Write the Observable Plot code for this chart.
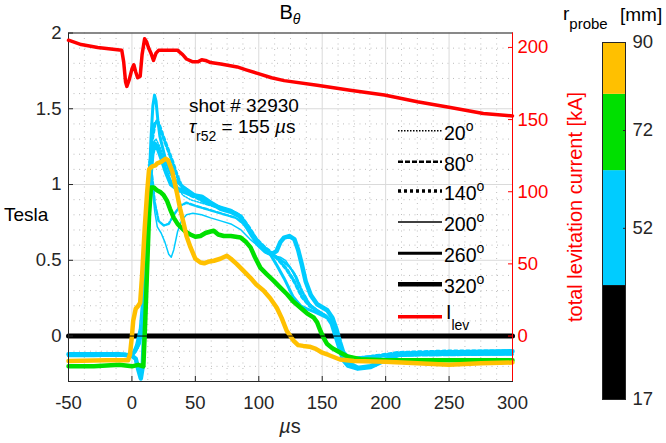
<!DOCTYPE html>
<html><head><meta charset="utf-8">
<script src="https://cdn.jsdelivr.net/npm/d3@7"></script>
<script src="https://cdn.jsdelivr.net/npm/@observablehq/plot@0.6"></script>
<style>
body{margin:0;background:#fff;}
#wrap{position:relative;width:666px;height:443px;overflow:hidden;}
#wrap svg{position:absolute;left:0;top:0;}
</style></head><body><div id="wrap"></div>
<script>
// ---------- tick values ----------
const xTicks = [-50, 0, 50, 100, 150, 200, 250, 300];
const yTicks = [0, 0.5, 1, 1.5, 2];
const rightTicks = [0, 50, 100, 150, 200];
const cbTicks = [17, 52, 72, 90];
const cbEdges = [17, 40.3, 63.8, 79.4, 90];
const cbColors = ["#000000", "#00ccff", "#00e000", "#ffc000"];
const angleLabels = ["20", "80", "140", "200", "260", "320"];

// ---------- series: [time µs, value] ----------
// r = 17 mm probe (black)
const b17 = [[-50, 0], [300, 0]];
// r = 52 mm probe (cyan), one per angle
const b52_20 = [[-50,-0.12],[0,-0.12],[4,-0.06],[8,0.1],[11,0.55],[13,0.95],[15,1.18],[17,1.28],[19,1.3],[22,1.25],[25,1.18],[30,1.08],[35,1.0],[40,0.93],[46,0.9],[54,0.88],[62,0.86],[70,0.84],[78,0.82],[85,0.78],[92,0.7],[100,0.62],[108,0.56],[115,0.52],[121,0.48],[126,0.44],[131,0.34],[137,0.24],[143,0.19],[150,0.15],[156,0.11],[160,0.05],[164,-0.05],[168,-0.12],[176,-0.14],[200,-0.12],[300,-0.11]];
const b52_80 = [[-50,-0.13],[0,-0.13],[4,-0.08],[8,0.1],[10,0.5],[12,0.95],[14,1.15],[16,1.05],[18,0.88],[21,0.76],[25,0.73],[29,0.74],[33,0.8],[38,0.86],[43,0.88],[50,0.86],[58,0.84],[66,0.82],[74,0.8],[82,0.78],[88,0.74],[94,0.67],[100,0.6],[106,0.55],[112,0.53],[118,0.5],[124,0.46],[129,0.4],[134,0.3],[140,0.21],[146,0.17],[152,0.14],[157,0.1],[161,0.02],[165,-0.08],[169,-0.14],[180,-0.16],[200,-0.13],[300,-0.12]];
const b52_140 = [[-50,-0.12],[0,-0.12],[4,-0.08],[8,0.05],[10,0.3],[12,0.7],[14,1.1],[16,1.3],[18,1.4],[20,1.42],[22,1.38],[24,1.33],[28,1.24],[32,1.15],[36,1.05],[40,0.97],[46,0.93],[52,0.91],[58,0.88],[65,0.86],[72,0.84],[80,0.82],[86,0.79],[92,0.72],[98,0.64],[104,0.59],[110,0.55],[116,0.5],[122,0.44],[128,0.36],[134,0.26],[140,0.2],[147,0.16],[153,0.13],[158,0.08],[162,-0.01],[166,-0.1],[172,-0.15],[185,-0.14],[210,-0.11],[250,-0.1],[300,-0.1]];
const b52_200 = [[-50,-0.12],[0,-0.12],[3,-0.06],[6,0.05],[9,0.35],[11,0.75],[13,1.02],[14.5,1.08],[16,0.98],[18,0.82],[20,0.72],[23,0.68],[26,0.62],[29,0.54],[31,0.52],[33,0.57],[36,0.69],[39,0.76],[43,0.8],[48,0.81],[55,0.8],[62,0.78],[70,0.76],[78,0.74],[86,0.7],[93,0.64],[100,0.59],[106,0.55],[112,0.53],[117,0.52],[121,0.5],[125,0.45],[130,0.37],[135,0.28],[140,0.21],[146,0.17],[152,0.14],[157,0.11],[161,0.03],[165,-0.07],[169,-0.13],[180,-0.15],[210,-0.12],[300,-0.11]];
const b52_260 = [[-50,-0.13],[-30,-0.13],[-10,-0.125],[0,-0.13],[3,-0.1],[6,-0.05],[9,0.1],[11,0.45],[13,0.9],[15,1.3],[16.5,1.52],[17.8,1.59],[19,1.55],[20.5,1.42],[22,1.32],[24,1.25],[27,1.15],[30,1.08],[34,1.03],[38,1.0],[43,0.97],[50,0.93],[56,0.9],[62,0.87],[70,0.85],[78,0.83],[84,0.8],[89,0.75],[94,0.69],[99,0.63],[104,0.58],[109,0.54],[114,0.47],[120,0.38],[127,0.26],[133,0.2],[138,0.18],[144,0.16],[149,0.14],[154,0.12],[157,0.08],[160,0.0],[163,-0.08],[166,-0.16],[170,-0.2],[178,-0.22],[188,-0.21],[198,-0.17],[210,-0.13],[230,-0.12],[260,-0.12],[300,-0.12]];
const b52_320 = [[-50,-0.12],[-10,-0.12],[0,-0.13],[3,-0.15],[5,-0.22],[7,-0.28],[8.5,-0.2],[10,0.1],[12,0.6],[14,1.0],[16,1.2],[18,1.27],[20,1.25],[23,1.18],[27,1.08],[31,1.0],[36,0.97],[42,0.95],[48,0.93],[55,0.92],[62,0.88],[70,0.84],[78,0.82],[85,0.79],[90,0.73],[95,0.66],[100,0.6],[105,0.56],[110,0.54],[114,0.56],[117,0.62],[120,0.65],[124,0.66],[128,0.64],[131,0.57],[134,0.47],[137,0.36],[141,0.27],[146,0.21],[150,0.19],[154,0.17],[158,0.12],[161,0.05],[164,-0.04],[167,-0.12],[171,-0.18],[178,-0.21],[188,-0.2],[198,-0.16],[210,-0.12],[240,-0.11],[300,-0.1]];
// r = 72 mm probe (green)
const b72 = [[-50,-0.2],[-30,-0.2],[-10,-0.19],[0,-0.2],[5,-0.19],[9,-0.2],[10.5,0.1],[12,0.45],[13.5,0.8],[15,0.98],[17.3,0.98],[20,0.96],[22.5,0.95],[25,0.93],[27.8,0.89],[30,0.84],[33,0.78],[36,0.74],[38.3,0.72],[42,0.69],[46,0.67],[50,0.655],[54,0.66],[58,0.68],[62,0.69],[64.5,0.695],[68,0.67],[72.4,0.66],[78,0.66],[85.6,0.65],[90,0.62],[93.5,0.585],[97,0.52],[101.3,0.45],[106,0.41],[111.8,0.364],[117,0.32],[122.3,0.276],[127,0.23],[132.9,0.187],[138,0.15],[143.4,0.121],[146,0.09],[148.6,0.033],[151,-0.01],[153.9,-0.053],[158,-0.08],[164.4,-0.11],[170,-0.135],[180,-0.153],[200,-0.16],[250,-0.16],[300,-0.16]];
// r = 90 mm probe (orange)
const b90 = [[-50,-0.165],[-20,-0.16],[-3,-0.16],[-1.5,-0.12],[0,0.0],[1,0.1],[3,0.18],[5,0.2],[6.5,0.22],[8,0.4],[10,0.7],[12,0.95],[13.5,1.1],[16,1.12],[18.6,1.126],[20,1.14],[23,1.15],[26.5,1.17],[28.5,1.16],[31.7,1.09],[33.5,1.02],[35.6,0.94],[38,0.84],[40.9,0.74],[43,0.66],[46.2,0.585],[50,0.51],[54,0.485],[57,0.48],[60,0.49],[64.6,0.497],[69.7,0.51],[74.8,0.53],[78,0.51],[82.7,0.475],[88,0.43],[93.2,0.386],[98,0.34],[103.7,0.3],[109,0.25],[114.2,0.187],[118,0.12],[122,0.035],[127.3,-0.03],[131,-0.06],[135,-0.065],[140,-0.07],[145,-0.085],[150,-0.11],[155,-0.125],[164,-0.155],[175,-0.165],[200,-0.17],[225,-0.18],[250,-0.19],[275,-0.18],[300,-0.175]];
// total levitation current [kA]
const ilev = [[-50,205],[-40,202],[-27,200],[-8,198],[-6.5,190],[-5,176],[-4,173],[-2,178],[0,185],[1.5,188],[3,183],[4.5,179],[6.5,180],[8,195],[10,206],[11.5,204],[13,200],[15,196],[17,191],[19,196],[21,198],[26,198],[36,198],[40,195],[43,192],[48,190],[52,190],[55,191.5],[58,191],[62,189.5],[70,188.5],[83,186.5],[90,184.5],[99,182],[110,179],[120,177],[146,173.8],[172,170.4],[199,167],[225,162.3],[251,158.4],[277,154.2],[300,152.5]];

// ---------- layout / styles ----------
const W = 666, H = 443, ML = 68, MR = 154, MT = 32.5, MB = 62;
const font = '"Liberation Sans", Arial, Helvetica, sans-serif';
const ink = "#262626";
const CYAN = "#00ccff", GREEN = "#00e000", ORANGE = "#ffc000", RED = "#ff0000";
const lineStyle = {
  "20":  {strokeWidth: 1.5, strokeDasharray: "1.5,1.5"},
  "80":  {strokeWidth: 2.5, strokeDasharray: "5,2"},
  "140": {strokeWidth: 3.5, strokeDasharray: "3,3"},
  "200": {strokeWidth: 1.5},
  "260": {strokeWidth: 3},
  "320": {strokeWidth: 4.5}
};
const cyanSeries = [["20", b52_20], ["80", b52_80], ["140", b52_140], ["200", b52_200], ["260", b52_260], ["320", b52_320]];
const rows = pairs => pairs.map(([t, v]) => ({t, v}));

const minorX = d3.range(-50, 300.001, 12.5).filter(v => !xTicks.includes(v));
const minorY = d3.range(-2, 21).map(v => v / 10).filter(v => !yTicks.includes(v));

const wrap = document.getElementById("wrap");

// ---------- main axes (Tesla) ----------
const main = Plot.plot({
  width: W, height: H, marginLeft: ML, marginRight: MR, marginTop: MT, marginBottom: MB,
  style: {fontFamily: font, background: "white", overflow: "visible"},
  x: {domain: [-50, 300]},
  y: {domain: [-0.3, 2]},
  marks: [
    Plot.ruleX(minorX, {stroke: "#bdbdbd", strokeDasharray: "1,4.5", strokeWidth: 1}),
    Plot.ruleY(minorY, {stroke: "#bdbdbd", strokeDasharray: "1,4.5", strokeWidth: 1}),
    Plot.ruleX(xTicks, {stroke: "#dadada"}),
    Plot.ruleY(yTicks, {stroke: "#dadada"}),
    Plot.line(rows(b17), {x: "t", y: "v", stroke: "#000", strokeWidth: 5}),
    ...cyanSeries.map(([a, s]) => Plot.line(rows(s), {x: "t", y: "v", stroke: CYAN, strokeLinejoin: "round", ...lineStyle[a]})),
    Plot.line(rows(b72), {x: "t", y: "v", stroke: GREEN, strokeWidth: 4.5, strokeLinejoin: "round"}),
    Plot.line(rows(b90), {x: "t", y: "v", stroke: ORANGE, strokeWidth: 4.5, strokeLinejoin: "round"}),
    Plot.line(rows(b17), {x: "t", y: "v", stroke: "#000", strokeWidth: 1}),
    Plot.frame({stroke: ink}),
    Plot.axisX({ticks: xTicks, tickFormat: d => String(d), tickSize: -5, tickPadding: 19.5, fontSize: 18.5, color: ink, label: null}),
    Plot.axisY({ticks: yTicks, tickFormat: d => String(d), tickSize: -5, tickPadding: 12, fontSize: 18.5, color: ink, label: null})
  ]
});
wrap.appendChild(main);

// ---------- right axes (kA) ----------
const right = Plot.plot({
  width: W, height: H, marginLeft: ML, marginRight: MR, marginTop: MT, marginBottom: MB,
  style: {fontFamily: font, background: "transparent", overflow: "visible"},
  x: {domain: [-50, 300], axis: null},
  y: {domain: [-31.5, 210]},
  marks: [
    Plot.line(rows(ilev), {x: "t", y: "v", stroke: RED, strokeWidth: 3.5, strokeLinejoin: "round"}),
    Plot.ruleX([300], {stroke: RED}),
    Plot.axisY({anchor: "right", ticks: rightTicks, tickFormat: d => String(d), tickSize: -5, tickPadding: 10, fontSize: 18.5, color: RED, label: null})
  ]
});
wrap.appendChild(right);

// ---------- colorbar ----------
const cbRows = cbColors.map((c, i) => ({lo: cbEdges[i], hi: cbEdges[i + 1], c, x1: 0, x2: 1}));
const cbar = Plot.plot({
  width: W, height: H, marginLeft: 602, marginRight: 41, marginTop: 42, marginBottom: 44,
  style: {fontFamily: font, background: "transparent", overflow: "visible"},
  x: {domain: [0, 1], axis: null},
  y: {domain: [17, 90]},
  color: {type: "identity"},
  marks: [
    Plot.rect(cbRows, {x1: "x1", x2: "x2", y1: "lo", y2: "hi", fill: "c"}),
    Plot.frame({stroke: ink}),
    Plot.axisY({anchor: "right", ticks: cbTicks, tickFormat: d => String(d), tickSize: -3, tickPadding: 10, fontSize: 18.5, color: ink, label: null})
  ]
});
wrap.appendChild(cbar);

// ---------- texts & legend ----------
const svg = d3.select(wrap).append("svg").attr("width", W).attr("height", H)
  .style("font-family", font).style("pointer-events", "none");

// title
const tt = svg.append("text").attr("x", 290).attr("y", 19).attr("text-anchor", "middle").attr("font-size", 20).attr("fill", "#000");
tt.append("tspan").text("B");
tt.append("tspan").attr("font-size", 14).attr("font-style", "italic").attr("dy", 5).text("θ");

// y label
svg.append("text").attr("x", 4).attr("y", 221).attr("font-size", 19).attr("fill", "#000").text("Tesla");

// x label
const xl = svg.append("text").attr("x", 290).attr("y", 433).attr("text-anchor", "middle").attr("font-size", 20).attr("fill", ink);
xl.append("tspan").attr("font-style", "italic").text("µ");
xl.append("tspan").text("s");

// right label
svg.append("text").attr("transform", "translate(582,207) rotate(-90)").attr("text-anchor", "middle")
  .attr("font-size", 20).attr("fill", RED).text("total levitation current [kA]");

// shot annotation
svg.append("text").attr("x", 189).attr("y", 111.5).attr("font-size", 19).attr("fill", "#000").text("shot # 32930");
const ta = svg.append("text").attr("x", 189).attr("y", 133).attr("font-size", 19).attr("fill", "#000");
ta.append("tspan").attr("font-style", "italic").text("τ");
ta.append("tspan").attr("font-size", 14).attr("dy", 8).text("r52");
ta.append("tspan").attr("dy", -8).text(" = 155 ");
ta.append("tspan").attr("font-style", "italic").text("µ");
ta.append("tspan").text("s");

// colorbar label
const cl = svg.append("text").attr("x", 563).attr("y", 20).attr("font-size", 19).attr("fill", "#000");
cl.append("tspan").text("r");
cl.append("tspan").attr("font-size", 15).attr("dy", 9).text("probe");
svg.append("text").attr("x", 620).attr("y", 21).attr("font-size", 19).attr("fill", "#000").text("[mm]");

// legend
const legY = [130.7, 161.7, 191, 222, 253.3, 284.3, 316.7];
const lg = svg.append("g");
angleLabels.forEach((a, i) => {
  const st = lineStyle[a];
  lg.append("line").attr("x1", 398).attr("x2", 442).attr("y1", legY[i]).attr("y2", legY[i])
    .attr("stroke", "#000").attr("stroke-width", st.strokeWidth).attr("stroke-dasharray", st.strokeDasharray || null);
  const t = lg.append("text").attr("x", 444).attr("y", legY[i] + 9).attr("font-size", 19.5).attr("fill", "#000");
  t.append("tspan").text(a);
  t.append("tspan").attr("font-size", 14).attr("dy", -9).text("o");
});
lg.append("line").attr("x1", 398).attr("x2", 442).attr("y1", legY[6]).attr("y2", legY[6]).attr("stroke", RED).attr("stroke-width", 3.5);
const li = lg.append("text").attr("x", 446).attr("y", legY[6] + 2).attr("font-size", 19.5).attr("fill", "#000");
li.append("tspan").text("I");
li.append("tspan").attr("font-size", 14).attr("dy", 11).text("lev");
</script></body></html>
